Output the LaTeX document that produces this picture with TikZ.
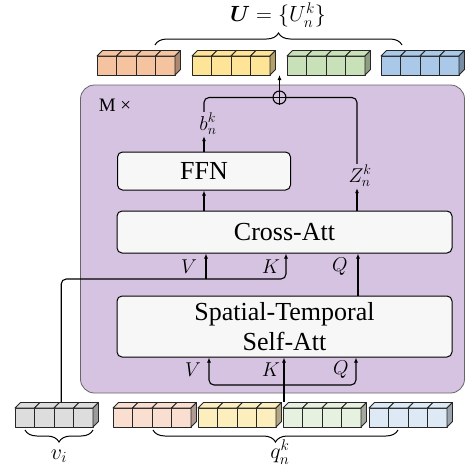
\RequirePackage{fix-cm}
\documentclass[tikz,border=0pt]{standalone}
\usepackage{amsmath,amssymb}
\usepackage{fontspec}
\setmainfont{Liberation Serif}
\usepackage{tikz}
\usetikzlibrary{arrows.meta,positioning,decorations.pathreplacing}

\definecolor{blkpurple}{RGB}{214,195,225}
\definecolor{boxgray}{RGB}{247,247,247}
\definecolor{uorange}{RGB}{246,195,160}
\definecolor{uyellow}{RGB}{253,228,150}
\definecolor{ugreen}{RGB}{201,225,184}
\definecolor{ublue}{RGB}{170,201,233}
\definecolor{qorange}{RGB}{250,222,208}
\definecolor{qyellow}{RGB}{253,238,190}
\definecolor{qgreen}{RGB}{231,241,223}
\definecolor{qblue}{RGB}{221,234,246}
\definecolor{vgray}{RGB}{221,221,221}

\tikzset{cubeline/.style={draw=black!85, line width=0.9pt, line join=round}}

% row of four cubes: name, left x, bottom y, colour
\newcommand{\cuberow}[4]{%
  \foreach \cc in {0,1,2,3}{
    \draw[cubeline, fill=#4] (#2+\cc*19.5, #3) rectangle ++(19.5,-19);
    \draw[cubeline, fill=#4] (#2+\cc*19.5, #3-19) -- ++(5.5,-5.5) -- ++(19.5,0) -- ++(-5.5,5.5) -- cycle;
  }
  \draw[cubeline, fill=#4!70!black] (#2+78, #3) -- ++(5.5,-5.5) -- ++(0,-19) -- ++(-5.5,5.5) -- cycle;
  \node[inner sep=0pt, minimum width=83.5pt, minimum height=24.5pt, anchor=south west] (#1) at (#2,#3) {};
}

\begin{document}
\begin{tikzpicture}[x=1pt, y=-1pt,
  box/.style={draw, rounded corners=5pt, fill=boxgray, line width=1pt, inner sep=0pt,
    font=\fontsize{26}{30}\selectfont},
  lbl/.style={inner sep=1pt, font=\fontsize{20}{22}\selectfont},
  big/.style={inner sep=0pt, font=\fontsize{22}{24}\selectfont},
  arr/.style={-{Latex[length=5pt,width=4pt]}, line width=1.1pt},
  brc/.style={decorate, decoration={brace, amplitude=12pt}, line width=1pt}]

  \useasboundingbox (0,0) rectangle (466,467);

  % the repeated block
  \node[draw=black!60, fill=blkpurple, rounded corners=14pt, line width=0.8pt,
        minimum width=384pt, minimum height=308pt] (blk) at (272.5,239) {};
  \node[inner sep=1pt, font=\fontsize{19}{21}\selectfont] (mx) at (115,105.5) {M ×};

  \node[box, minimum width=173pt, minimum height=38pt] (ffn) at (204,171) {FFN};
  \node[box, minimum width=335pt, minimum height=42pt] (cross) at (284.5,232) {Cross-Att};
  \node[box, minimum width=335pt, minimum height=61pt, align=center] (stsa) at (284.5,326.5)
       {Spatial-Temporal\\Self-Att};

  % tokens
  \cuberow{uo}{97}{75}{uorange}
  \cuberow{uy}{192}{75}{uyellow}
  \cuberow{ug}{287}{75}{ugreen}
  \cuberow{ub}{381}{75}{ublue}

  \cuberow{vi}{15}{427}{vgray}
  \cuberow{qo}{113}{427}{qorange}
  \cuberow{qy}{198}{427}{qyellow}
  \cuberow{qg}{283}{427}{qgreen}
  \cuberow{qb}{369}{427}{qblue}

  % labels
  \node[lbl] (blab) at (208,124) {$b_n^k$};
  \node[lbl] (zlab) at (360,176) {$Z_n^k$};
  \node[lbl] (cV) at (189,267) {$V$};
  \node[lbl] (cK) at (271,267) {$K$};
  \node[lbl] (cQ) at (340,267) {$Q$};
  \node[lbl] (sV) at (193,370) {$V$};
  \node[lbl] (sK) at (271,370) {$K$};
  \node[lbl] (sQ) at (341,370) {$Q$};

  \node[draw, circle, line width=1.1pt, minimum size=13pt, inner sep=0pt] (add) at (279.5,97.5) {};
  \draw[line width=1.1pt] (add.north) -- (add.south);
  \draw[line width=1.1pt] (add.west) -- (add.east);

  \coordinate (vtap) at ([xshift=4.25pt]vi.north);
  \coordinate (ktap) at ([xshift=1pt]qg.north west);
  \coordinate (ck) at (286,279);
  \coordinate (cv) at (206,279);
  \coordinate (cq) at (358,296);
  \coordinate (cz) at (357,0);
  \coordinate (sv) at (209,385);
  \coordinate (sq) at (356,385);

  % connectors
  \draw[arr] (ktap) -- (ktap |- stsa.south);
  \draw[{Latex[length=5pt,width=4pt]}-{Latex[length=5pt,width=4pt]}, line width=1.1pt, rounded corners=5pt]
    (sv |- stsa.south) -- (sv) -- (sq) -- (sq |- stsa.south);
  \draw[arr, rounded corners=5pt] (vtap) -- (vtap |- ck) -- (ck) -- (ck |- cross.south);
  \draw[arr] (cv) -- (cv |- cross.south);
  \draw[arr] (cq |- stsa.north) -- (cq |- cross.south);

  \draw[arr] (ffn.north |- cross.north) -- (ffn.south);
  \draw[arr] (cz |- cross.north) -- (cz |- zlab.south);
  \draw[arr] (ffn.north) -- (ffn.north |- blab.south);
  \draw[line width=1.1pt, rounded corners=5pt] (ffn.north |- blab.north) -- (ffn.north |- add) -- (add.west);
  \draw[line width=1.1pt, rounded corners=5pt] (cz |- zlab.north) -- (cz |- add) -- (add.east);
  \draw[arr] (add.north) -- (add |- uy.south);

  % braces
  \draw[brc] (155,45) -- (402,45);
  \node[big] (ulab) at (278,15) {$\boldsymbol{U} = \{U_n^k\}$};
  \draw[brc] (93,430) -- (25,430);
  \node[big] (vlab) at (59,456) {$v_i$};
  \draw[brc] (398,430) -- (153,430);
  \node[big] (qlab) at (280,452) {$q_n^k$};

\end{tikzpicture}
\end{document}
